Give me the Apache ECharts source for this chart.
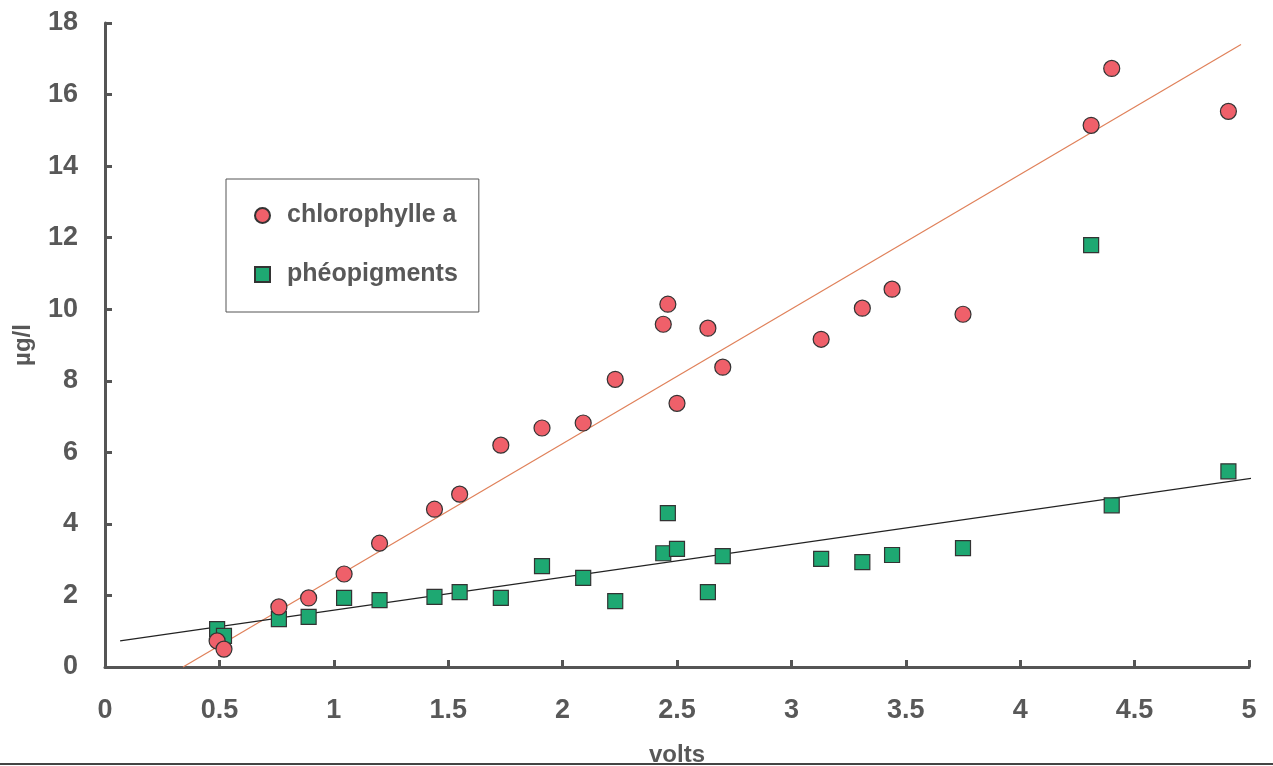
<!DOCTYPE html>
<html>
<head>
<meta charset="utf-8">
<script src="https://cdn.jsdelivr.net/npm/echarts@6/dist/echarts.min.js"></script>
<style>
  html, body { margin: 0; padding: 0; background: #fff; }
  #chart { width: 1273px; height: 766px; }
</style>
</head>
<body>
<div id="chart"></div>
<script>
// volts readings, shared by both series
const volts = [0.49, 0.52, 0.76, 0.89, 1.045, 1.20, 1.44, 1.55, 1.73, 1.91, 2.09, 2.23,
  2.44, 2.46, 2.50, 2.635, 2.70, 3.13, 3.31, 3.44, 3.75, 4.31, 4.40, 4.91];
const chloroValues = [0.73, 0.50, 1.68, 1.93, 2.60, 3.46, 4.41, 4.83, 6.20, 6.68, 6.82, 8.04,
  9.58, 10.14, 7.37, 9.47, 8.38, 9.16, 10.03, 10.56, 9.86, 15.14, 16.73, 15.53];
const pheoValues = [1.06, 0.87, 1.34, 1.40, 1.93, 1.87, 1.96, 2.09, 1.93, 2.82, 2.49, 1.84,
  3.18, 4.30, 3.30, 2.09, 3.10, 3.02, 2.93, 3.13, 3.32, 11.79, 4.52, 5.47];
// trend line end points [x, y]
const chloroTrend = [[0.341, 0], [4.965, 17.40]];
const pheoTrend = [[0.066, 0.73], [5.105, 5.36]];
const seriesNames = ["chlorophylle a", "phéopigments"];

const textColor = "#585858";
const fontFam = "'Liberation Sans', Arial, sans-serif";

const chart = echarts.init(document.getElementById("chart"));
chart.setOption({
  backgroundColor: "#fff",
  animation: false,
  grid: { left: 105, right: 24, top: 23, bottom: 99, outerBoundsMode: "none" },
  legend: {
    orient: "vertical",
    left: 226,
    top: 179,
    padding: [24, 21, 25, 28],
    itemGap: 34,
    itemWidth: 15,
    itemHeight: 15,
    borderColor: "#555",
    borderWidth: 1,
    data: [
      { name: seriesNames[0], icon: "circle" },
      { name: seriesNames[1], icon: "rect" }
    ],
    textStyle: {
      color: textColor,
      fontFamily: fontFam,
      fontWeight: "bold",
      fontSize: 25,
      padding: [0, 0, 0, 12]
    }
  },
  xAxis: {
    type: "value",
    min: 0,
    max: 5,
    interval: 0.5,
    name: "volts",
    nameLocation: "middle",
    nameGap: 76,
    nameTextStyle: {
      color: textColor,
      fontFamily: fontFam,
      fontWeight: "bold",
      fontSize: 24
    },
    splitLine: { show: false },
    axisLine: { lineStyle: { color: "#555", width: 3 } },
    axisTick: { inside: true, length: 7, lineStyle: { color: "#555", width: 3 } },
    axisLabel: {
      margin: 30,
      color: textColor,
      fontFamily: fontFam,
      fontWeight: "bold",
      fontSize: 27
    }
  },
  yAxis: {
    type: "value",
    min: 0,
    max: 18,
    interval: 2,
    name: "µg/l",
    nameLocation: "middle",
    nameGap: 70,
    nameRotate: 90,
    nameTextStyle: {
      color: textColor,
      fontFamily: fontFam,
      fontWeight: "bold",
      fontSize: 24
    },
    splitLine: { show: false },
    axisLine: { lineStyle: { color: "#555", width: 3 } },
    axisTick: { inside: true, length: 7, lineStyle: { color: "#555", width: 3 } },
    axisLabel: {
      margin: 27,
      color: textColor,
      fontFamily: fontFam,
      fontWeight: "bold",
      fontSize: 27
    }
  },
  series: [
    {
      name: seriesNames[0] + " trend",
      type: "line",
      data: chloroTrend,
      symbol: "none",
      clip: false,
      silent: true,
      lineStyle: { color: "#e0815a", width: 1.2 },
      z: 1
    },
    {
      name: seriesNames[1] + " trend",
      type: "line",
      data: pheoTrend,
      symbol: "none",
      clip: false,
      silent: true,
      lineStyle: { color: "#222", width: 1.2 },
      z: 1
    },
    {
      name: seriesNames[1],
      type: "scatter",
      symbol: "rect",
      symbolSize: 15,
      data: volts.map((v, i) => [v, pheoValues[i]]),
      itemStyle: { color: "#1ea872", borderColor: "#333", borderWidth: 1.2, opacity: 1 },
      z: 3
    },
    {
      name: seriesNames[0],
      type: "scatter",
      symbol: "circle",
      symbolSize: 16,
      data: volts.map((v, i) => [v, chloroValues[i]]),
      itemStyle: { color: "#ef606a", borderColor: "#333", borderWidth: 1.2, opacity: 1 },
      z: 4
    }
  ],
  graphic: [
    {
      type: "line",
      shape: { x1: 0, y1: 764, x2: 1273, y2: 764 },
      style: { stroke: "#444", lineWidth: 2 }
    }
  ]
});
</script>
</body>
</html>
